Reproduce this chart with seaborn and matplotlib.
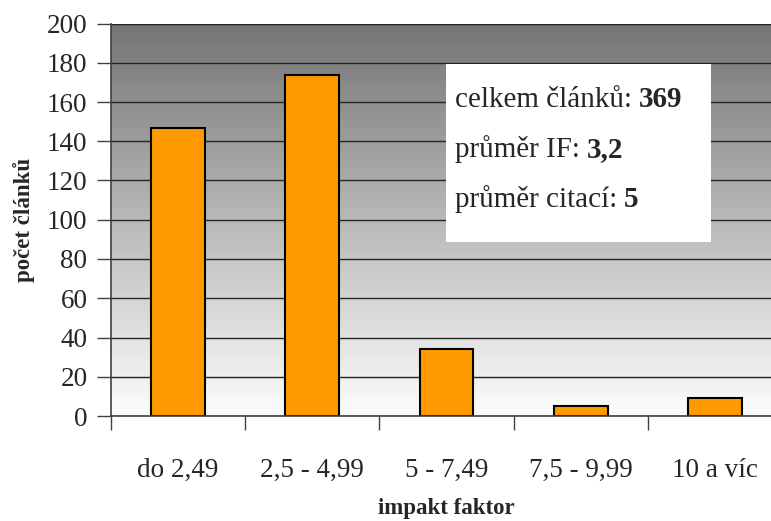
import numpy as np
import matplotlib
matplotlib.use("Agg")
import matplotlib.pyplot as plt
import seaborn as sns
from matplotlib.patches import Rectangle
from matplotlib.colors import LinearSegmentedColormap

# data
categories = ["do 2,49", "2,5 - 4,99", "5 - 7,49", "7,5 - 9,99", "10 a víc"]
counts = [147, 174, 34, 5, 9]
y_ticks = list(range(0, 201, 20))
summary_labels = ["celkem článků:", "průměr IF:", "průměr citací:"]
summary_values = ["369", "3,2", "5"]

sns.set_style("white")
plt.rcParams["font.family"] = ["Liberation Serif", "DejaVu Serif"]

W, H = 771, 521
fig = plt.figure(figsize=(W / 100, H / 100), dpi=100)
# plot area runs past the right edge of the picture, like the original
ax = fig.add_axes([111 / W, 105 / H, 671 / W, 392.5 / H])

# grey gradient behind the plot
grad = np.linspace(0, 1, 256).reshape(-1, 1)
bg = LinearSegmentedColormap.from_list("bg", ["#fdfdfd", "#747474"])
ax.imshow(grad, extent=[0, 1, 0, 1], transform=ax.transAxes, origin="lower",
          aspect="auto", cmap=bg, zorder=0)

sns.barplot(x=categories, y=counts, color="#FF9900", saturation=1,
            edgecolor="black", linewidth=1.5, width=0.4, ax=ax, zorder=2)

ax.set_xlim(-0.5, 4.5)
ax.set_ylim(0, 200)
ax.set_axisbelow(True)
ax.yaxis.grid(True, color="#262626", linewidth=1)
ax.xaxis.grid(False)

# x labels centred, tick marks on category boundaries
ax.set_xticks(range(len(categories)))
ax.set_xticklabels(categories)
ax.set_xticks(np.arange(-0.5, len(categories) + 0.5, 1), minor=True)
ax.tick_params(axis="x", which="major", bottom=True, length=0, pad=30, labelsize=19.5)
ax.tick_params(axis="x", which="minor", bottom=True, length=10, width=1,
               color="#404040", direction="out")
ax.set_yticks(y_ticks)
ax.tick_params(axis="y", left=True, length=10, width=1, color="#404040",
               direction="out", pad=7, labelsize=19.5)

for side in ["top", "right"]:
    ax.spines[side].set_visible(False)
for side in ["left", "bottom"]:
    ax.spines[side].set_color("#404040")
    ax.spines[side].set_linewidth(1.2)

ax.set_xlabel("impakt faktor", fontsize=16.5, fontweight="bold")
ax.xaxis.set_label_coords(0.5, -0.21)
ax.set_ylabel("počet článků", fontsize=16.5, fontweight="bold")
ax.yaxis.set_label_coords(-0.114, 0.5)

# white summary box
box = Rectangle((446 / W, 279 / H), 265 / W, 178 / H, transform=fig.transFigure,
                facecolor="white", edgecolor="none", zorder=3, clip_on=False)
ax.add_patch(box)
for i, (lab, val) in enumerate(zip(summary_labels, summary_values)):
    yb = (H - (107 + 50 * i)) / H
    t = ax.text(455 / W, yb, lab, transform=fig.transFigure, fontsize=21,
                ha="left", va="baseline", zorder=4, clip_on=False)
    ax.annotate(val, xy=(1, yb), xycoords=(t, "figure fraction"),
                xytext=(5, 0), textcoords="offset points", fontsize=21,
                fontweight="bold", ha="left", va="baseline", zorder=5,
                annotation_clip=False)

fig.savefig("out.png", dpi=100, facecolor="white")
